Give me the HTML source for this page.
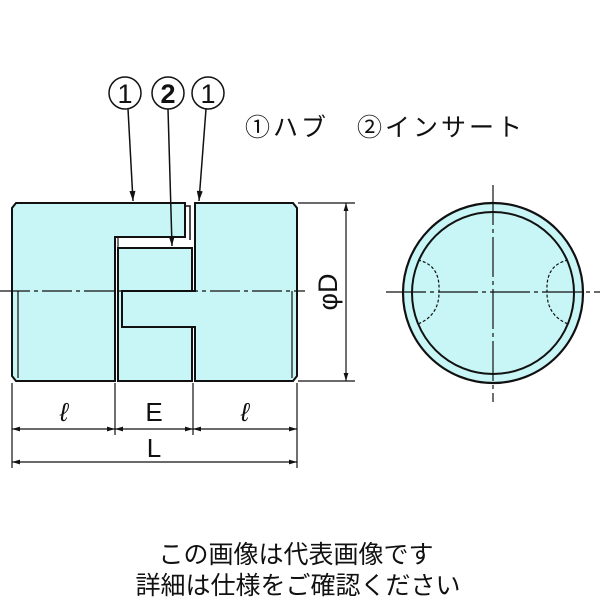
<!DOCTYPE html>
<html><head><meta charset="utf-8"><style>
html,body{margin:0;padding:0;background:#fff;width:600px;height:600px;overflow:hidden}
svg{display:block}
text{font-family:"Liberation Sans","Noto Sans CJK JP",sans-serif;fill:#111}
</style></head><body>
<svg width="600" height="600" viewBox="0 0 600 600" xmlns="http://www.w3.org/2000/svg">
<defs>
<marker id="a" viewBox="0 0 10 6" refX="10" refY="3" markerWidth="8" markerHeight="4" orient="auto-start-reverse"><path d="M0,0L10,3L0,6z" fill="#111"/></marker>
</defs>
<g stroke="#111" stroke-width="2" fill="#c8f5f5">
<path d="M16,203 L185,203 L185,237 L115,237 L115,381 L16,381 L12,376 L12,208 Z"/>
<path d="M185,206 L190,206 L190,240" fill="none" stroke-width="1.5"/>
<path d="M118,248 L192,248 L192,381 L118,381 Z"/>
<path d="M195,203 L293,203 L297,208 L297,376 L293,381 L195,381 L195,327 L122,327 L122,291 L195,291 Z"/>
</g>
<g stroke="#111" stroke-width="1.2" fill="none">
<line x1="18" y1="291" x2="18" y2="378"/>
<line x1="292" y1="291" x2="292" y2="378"/>
<line x1="118" y1="237" x2="118" y2="248"/>
<line x1="0" y1="291" x2="305" y2="291" stroke-dasharray="30,4,4,4"/>
</g>
<g stroke="#111" stroke-width="1.5" fill="none">
<circle cx="125" cy="93" r="16"/><circle cx="168" cy="93" r="16"/><circle cx="208" cy="93" r="16"/>
<line x1="128" y1="109" x2="133" y2="201" marker-end="url(#a)"/>
<line x1="168" y1="109" x2="172" y2="246" marker-end="url(#a)"/>
<line x1="206" y1="109" x2="199" y2="201" marker-end="url(#a)"/>
</g>
<text x="125" y="103" font-size="27" text-anchor="middle">1</text>
<text x="168" y="103" font-size="27" text-anchor="middle" font-weight="bold">2</text>
<text x="208" y="103" font-size="27" text-anchor="middle">1</text>
<text x="245" y="136" font-size="25" letter-spacing="3">①ハブ　②インサート</text>
<g stroke="#111" stroke-width="1.2" fill="none">
<line x1="12" y1="383" x2="12" y2="468"/>
<line x1="115" y1="383" x2="115" y2="435"/>
<line x1="193" y1="383" x2="193" y2="435"/>
<line x1="297" y1="383" x2="297" y2="468"/>
<line x1="12" y1="429" x2="115" y2="429" marker-start="url(#a)" marker-end="url(#a)"/>
<line x1="115" y1="429" x2="193" y2="429" marker-start="url(#a)" marker-end="url(#a)"/>
<line x1="193" y1="429" x2="297" y2="429" marker-start="url(#a)" marker-end="url(#a)"/>
<line x1="12" y1="462" x2="297" y2="462" marker-start="url(#a)" marker-end="url(#a)"/>
<line x1="298" y1="203" x2="355" y2="203"/>
<line x1="298" y1="381" x2="355" y2="381"/>
<line x1="346" y1="203" x2="346" y2="381" marker-start="url(#a)" marker-end="url(#a)"/>
</g>
<text x="64" y="421" font-size="26" text-anchor="middle" font-style="italic">ℓ</text>
<text x="154" y="421" font-size="26" text-anchor="middle">E</text>
<text x="245" y="421" font-size="26" text-anchor="middle" font-style="italic">ℓ</text>
<text x="154" y="457" font-size="26" text-anchor="middle">L</text>
<text transform="translate(337,292) rotate(-90)" font-size="27" text-anchor="middle">φD</text>
<g stroke="#111" fill="#c8f5f5">
<circle cx="493" cy="293" r="90" stroke-width="2.2"/>
<circle cx="493" cy="293" r="81" stroke-width="2"/>
</g>
<g stroke="#111" stroke-width="1.2" fill="none">
<line x1="386" y1="292" x2="600" y2="292" stroke-dasharray="40,4,4,4"/>
<line x1="493" y1="185" x2="493" y2="402" stroke-dasharray="40,4,4,4"/>
<path d="M418,260 Q440,265 439,290 Q440,315 418,324" stroke-dasharray="3,2"/>
<path d="M568,260 Q546,265 547,290 Q546,315 568,324" stroke-dasharray="3,2"/>
</g>
<text x="296" y="563" font-size="25" text-anchor="middle">この画像は代表画像です</text>
<text x="298" y="594" font-size="25" text-anchor="middle">詳細は仕様をご確認ください</text>
</svg>
</body></html>
